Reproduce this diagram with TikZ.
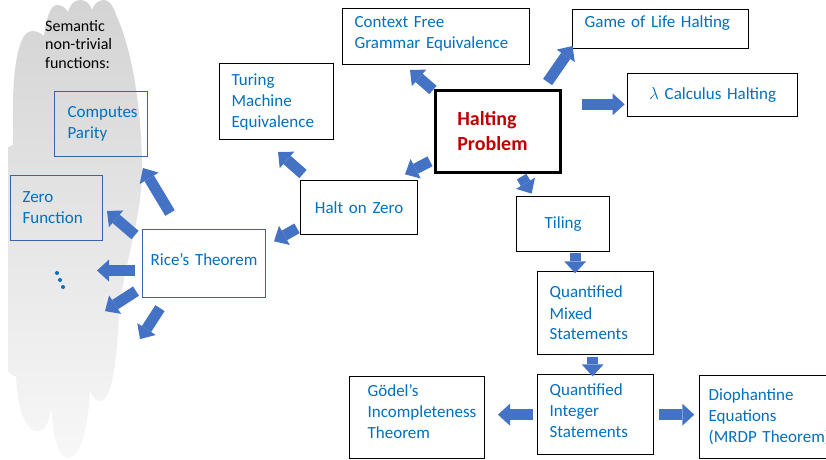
\documentclass[tikz,border=0pt]{standalone}
\usepackage{fontspec}
\setmainfont{Carlito}
\usetikzlibrary{arrows.meta,shadows}
\definecolor{txtblue}{HTML}{0070C0}
\definecolor{arrblue}{HTML}{4472C4}
\definecolor{edgeblue}{HTML}{3A62A8}
\definecolor{hpred}{HTML}{C00000}

\begin{document}
\begin{tikzpicture}[x=1pt, y=-1pt,
  box/.style={draw, line width=1.3pt, fill=white, anchor=north west, align=left, inner xsep=12pt, inner ysep=0pt, text=txtblue, font=\fontsize{17}{21}\selectfont},
  fbox/.style={box, draw=edgeblue, line width=1.1pt, fill=none},
  barrow/.style={draw=arrblue, line width=11pt, -{Triangle[length=12pt, width=22pt, line width=0pt]}}]
\useasboundingbox (0,0) rectangle (826,459);
\shade[top color=black!17, bottom color=black!3]
 (8,147) -- (8,368) .. controls (8,374) and (12,376) .. (16,376)
 .. controls (18,418) and (28,431) .. (38,431) .. controls (46,431) and (50,420) .. (51,405)
 .. controls (53,442) and (60,458) .. (68,458) .. controls (80,458) and (88,430) .. (90,390)
 .. controls (92,397) and (95,401) .. (100,401) .. controls (112,401) and (117,360) .. (119,315)
 .. controls (122,270) and (142,220) .. (142,170) .. controls (142,110) and (132,50) .. (117,17)
 .. controls (113,5) and (109,0) .. (104,0) .. controls (98,0) and (94,4) .. (92,10)
 .. controls (90,3) and (85,0) .. (80,0) .. controls (74,0) and (70,5) .. (68,12)
 .. controls (65,7) and (61,5) .. (57,5) .. controls (50,5) and (46,20) .. (44,36)
 .. controls (41,33) and (37,31) .. (32,31) .. controls (20,31) and (14,60) .. (13,100)
 -- (13,145) -- cycle;
\node[anchor=north west, inner sep=0pt, align=left, font=\fontsize{16}{18.5}\selectfont] (sem) at (45,20) {Semantic\\non-trivial\\functions:};

\node[box, minimum width=187pt, minimum height=56pt, text width=163pt, text depth=28.5pt] (cfg) at (342,8) {Context Free\\Grammar Equivalence};
\node[box, minimum width=176pt, minimum height=39pt, text width=152pt, text depth=15pt] (gol) at (572,9) {Game of Life Halting};
\node[box, minimum width=170pt, minimum height=43pt, text width=146pt, align=center] (lam) at (627,73) {$\lambda$ Calculus Halting};
\node[box, line width=2.6pt, minimum width=125pt, minimum height=82pt, text width=81pt, inner xsep=22pt, text=hpred, font=\fontsize{20}{25}\selectfont\bfseries, drop shadow={opacity=.4, shadow xshift=1.5pt, shadow yshift=-1.5pt}] (hp) at (434,89) {Halting\\Problem};
\node[box, minimum width=114pt, minimum height=76pt, text width=90pt] (tm) at (219,63) {Turing\\Machine\\Equivalence};
\node[box, minimum width=117pt, minimum height=54pt, text width=93pt, align=center] (hoz) at (300,180) {Halt on Zero};
\node[box, minimum width=93pt, minimum height=55pt, text width=69pt, align=center] (til) at (516,196) {Tiling};
\node[box, minimum width=116pt, minimum height=83pt, text width=92pt] (qms) at (537,271) {Quantified\\Mixed\\Statements};
\node[box, minimum width=116pt, minimum height=80pt, text width=92pt, text depth=50pt] (qis) at (537,374) {Quantified\\Integer\\Statements};
\node[box, minimum width=135pt, minimum height=82pt, text width=99pt, inner xsep=18pt, text depth=55pt] (god) at (349,376) {Gödel’s\\Incompleteness\\Theorem};
\node[box, minimum width=146pt, minimum height=83pt, text width=128pt, inner xsep=9pt] (dio) at (699,375) {Diophantine\\Equations\\(MRDP Theorem)};
\node[box, draw=edgeblue, line width=1.1pt, minimum width=123pt, minimum height=68pt, text width=111pt, inner xsep=6pt, align=center, text depth=8pt] (rice) at (142,229) {Rice’s Theorem};
\node[fbox, minimum width=93pt, minimum height=65pt, text width=67pt, inner xsep=13pt] (cp) at (54,91) {Computes\\Parity};
\node[fbox, minimum width=92pt, minimum height=65pt, text width=68pt] (zf) at (10,175) {Zero\\Function};
\fill[txtblue] (57,273) circle (2pt) (60,280) circle (2pt) (63,287) circle (2pt);

\draw[barrow] ([shift={(-1,1)}]hp.north west) -- ++(-23,-20);
\draw[barrow] ([shift={(-14,-7)}]hp.north east) -- ++(25,-36);
\draw[barrow] ([shift={(20,-27)}]hp.east) -- ++(43,0);
\draw[barrow] ([shift={(-4,30)}]hp.west) -- ++(-25,13);
\draw[barrow] ([shift={(-40,3)}]hp.south east) -- ++(10,17);
\draw[barrow] ([shift={(3,-6)}]hoz.north west) -- ++(-25,-22);
\draw[barrow] ([shift={(-3,-7)}]hoz.south west) -- ++(-23,13);
\draw[barrow] ([shift={(12,1)}]til.south) -- ++(0,20);
\draw[barrow] ([shift={(-3,2)}]qms.south) -- ++(0,19);
\draw[barrow] ([shift={(-4,0)}]qis.west) -- ++(-35,0);
\draw[barrow] ([shift={(5,0)}]qis.east) -- ++(35,0);
\draw[barrow] ([shift={(28,-16)}]rice.north west) -- ++(-27,-45);
\draw[barrow] ([shift={(-7,6)}]rice.north west) -- ++(-28,-24);
\draw[barrow] ([shift={(-7,7)}]rice.west) -- ++(-38,0);
\draw[barrow] ([shift={(-6,-7)}]rice.south west) -- ++(-31,20);
\draw[barrow] ([shift={(18,10)}]rice.south west) -- ++(-20,31);
\end{tikzpicture}
\end{document}
